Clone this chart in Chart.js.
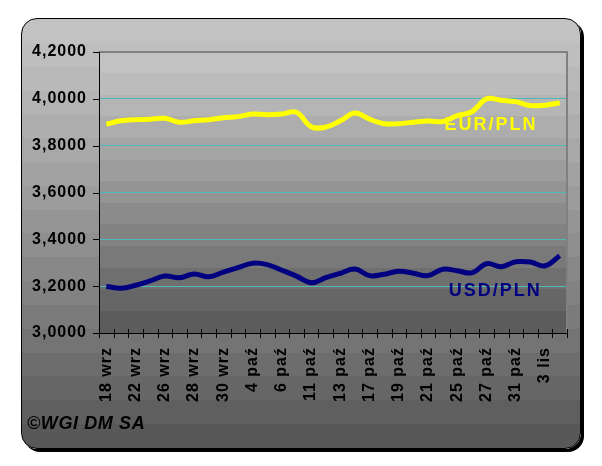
<!DOCTYPE html>
<html><head><meta charset="utf-8">
<script src="https://cdn.jsdelivr.net/npm/chart.js@4.4.1/dist/chart.umd.min.js"></script>
<style>
html,body{margin:0;padding:0;background:#fff;}
#wrap{position:relative;width:602px;height:466px;overflow:hidden;background:#fff;}
#panel{position:absolute;left:21px;top:18px;width:558px;height:429px;border:1px solid #000;border-radius:16px;box-shadow:3px 3px 0 #000;}
canvas{position:absolute;left:0;top:0;}
#copy{position:absolute;left:27px;top:413px;font:italic bold 18px "Liberation Sans",Arial,sans-serif;color:#000;letter-spacing:0.6px;}
</style></head>
<body><div id="wrap"><div id="panel"></div><canvas id="c" width="602" height="466"></canvas><div id="copy">©WGI DM SA</div></div>
<script>
// ---- data ----
const categories = [
  "18 wrz","20 wrz","22 wrz","24 wrz","26 wrz","27 wrz","28 wrz","29 wrz",
  "30 wrz","2 paź","4 paź","5 paź","6 paź","9 paź","11 paź","12 paź",
  "13 paź","15 paź","17 paź","18 paź","19 paź","20 paź","21 paź","23 paź",
  "25 paź","26 paź","27 paź","29 paź","31 paź","2 lis","3 lis","4 lis"
];
const eurPln = [
  3.892,3.906,3.911,3.913,3.917,3.900,3.906,3.911,
  3.919,3.924,3.935,3.932,3.935,3.943,3.881,3.879,
  3.906,3.939,3.913,3.894,3.894,3.900,3.905,3.903,
  3.928,3.945,4.000,3.994,3.988,3.971,3.973,3.983
];
const usdPln = [
  3.200,3.191,3.204,3.223,3.243,3.236,3.252,3.240,
  3.260,3.279,3.298,3.292,3.268,3.243,3.215,3.236,
  3.255,3.273,3.245,3.251,3.264,3.255,3.245,3.272,
  3.266,3.257,3.296,3.283,3.304,3.303,3.287,3.330
];
const yTickValues = [3.0,3.2,3.4,3.6,3.8,4.0,4.2];
const seriesNames = ["EUR/PLN","USD/PLN"];
const seriesColors = ["#ffff00","#000080"];
const seriesLabelAt = [{cat:26.3, value:3.887},{cat:26.6, value:3.181}];

// ---- panel banded background ----
function shade(top, bottom, t){ return Math.round(top+(bottom-top)*Math.pow(t,1.15)); }
function bands(top, bottom, n){
  const stops=[];
  for(let i=0;i<n;i++){
    const c=shade(top,bottom,i/(n-1));
    const a=(i/n*100).toFixed(2), b=((i+1)/n*100).toFixed(2);
    stops.push(`rgb(${c},${c},${c}) ${a}%`,`rgb(${c},${c},${c}) ${b}%`);
  }
  return stops;
}
document.getElementById('panel').style.background='linear-gradient(to bottom,'+bands(194,88,18).join(',')+')';

const FONT="'Liberation Sans', Arial, sans-serif";

const decor = {
  id:'decor',
  beforeDraw(chart){
    const {ctx, chartArea:a} = chart;
    ctx.save();
    const n=13, h=(a.bottom-a.top)/n;
    for(let i=0;i<n;i++){
      const c=shade(194,92,i/(n-1));
      ctx.fillStyle=`rgb(${c},${c},${c})`;
      ctx.fillRect(a.left, Math.floor(a.top+i*h), a.right-a.left, Math.ceil(h)+1);
    }
    ctx.restore();
    chart.ctx.letterSpacing='1px';
  },
  beforeDatasetsDraw(chart){
    const {ctx, chartArea:a, scales} = chart;
    const ys=scales.y;
    ctx.save();
    ctx.strokeStyle='#808080'; ctx.lineWidth=2;
    ctx.beginPath();
    ctx.moveTo(a.left, a.top); ctx.lineTo(a.right, a.top); ctx.lineTo(a.right, a.bottom);
    ctx.stroke();
    ctx.strokeStyle='#000'; ctx.lineWidth=1;
    ctx.beginPath();
    ctx.moveTo(a.left+0.5, a.top); ctx.lineTo(a.left+0.5, a.bottom+0.5);
    ctx.lineTo(a.right, a.bottom+0.5);
    yTickValues.forEach(v=>{
      const y=Math.round(ys.getPixelForValue(v))+0.5;
      ctx.moveTo(a.left-6, y); ctx.lineTo(a.left+1, y);
    });
    const w=(a.right-a.left)/categories.length;
    for(let k=0;k<=categories.length;k++){
      const x=Math.round(a.left+k*w)+0.5;
      ctx.moveTo(x, a.bottom-4); ctx.lineTo(x, a.bottom+5);
    }
    ctx.stroke();
    ctx.restore();
  },
  afterDraw(chart){
    const {ctx, scales} = chart;
    const xs=scales.x, ys=scales.y;
    ctx.save();
    ctx.letterSpacing='2px';
    ctx.font="bold 18px "+FONT;
    ctx.textAlign='center'; ctx.textBaseline='middle';
    seriesLabelAt.forEach((p,i)=>{
      const c0=Math.floor(p.cat);
      const x0=xs.getPixelForValue(c0), x1=xs.getPixelForValue(c0+1);
      const x=x0+(x1-x0)*(p.cat-c0);
      ctx.fillStyle=seriesColors[i];
      ctx.fillText(seriesNames[i], x, ys.getPixelForValue(p.value));
    });
    ctx.restore();
  }
};

new Chart(document.getElementById('c'), {
  type:'line',
  data:{
    labels:categories,
    datasets:[
      {label:seriesNames[0], data:eurPln, borderColor:seriesColors[0], borderWidth:5, pointRadius:0, tension:0.4, fill:false},
      {label:seriesNames[1], data:usdPln, borderColor:seriesColors[1], borderWidth:5, pointRadius:0, tension:0.4, fill:false}
    ]
  },
  options:{
    responsive:false, animation:false, devicePixelRatio:1,
    layout:{padding:{left:20, top:52, right:35, bottom:0}},
    plugins:{legend:{display:false}, tooltip:{enabled:false}},
    scales:{
      x:{
        type:'category', offset:true,
        grid:{display:false}, border:{display:false},
        ticks:{autoSkip:false, maxRotation:90, minRotation:90, padding:6,
          color:'#000', font:{family:FONT, weight:'bold', size:16},
          callback:(v,i)=> i%2===0 ? categories[i] : ''},
        afterFit:s=>{s.height=133;}
      },
      y:{
        min:3.0, max:4.2,
        afterBuildTicks:s=>{s.ticks=yTickValues.map(v=>({value:v}));},
        grid:{drawTicks:false, lineWidth:1,
          color:c=> (c.tick && (c.tick.value<=3.0001 || c.tick.value>=4.1999)) ? 'rgba(0,0,0,0)' : '#4fb8b8'},
        border:{display:false},
        ticks:{padding:12, color:'#000', font:{family:FONT, weight:'bold', size:16},
          callback:v=> Number(v).toFixed(4).replace('.',',')},
        afterFit:s=>{s.width=79;}
      }
    }
  },
  plugins:[decor]
});
</script>
</body></html>
